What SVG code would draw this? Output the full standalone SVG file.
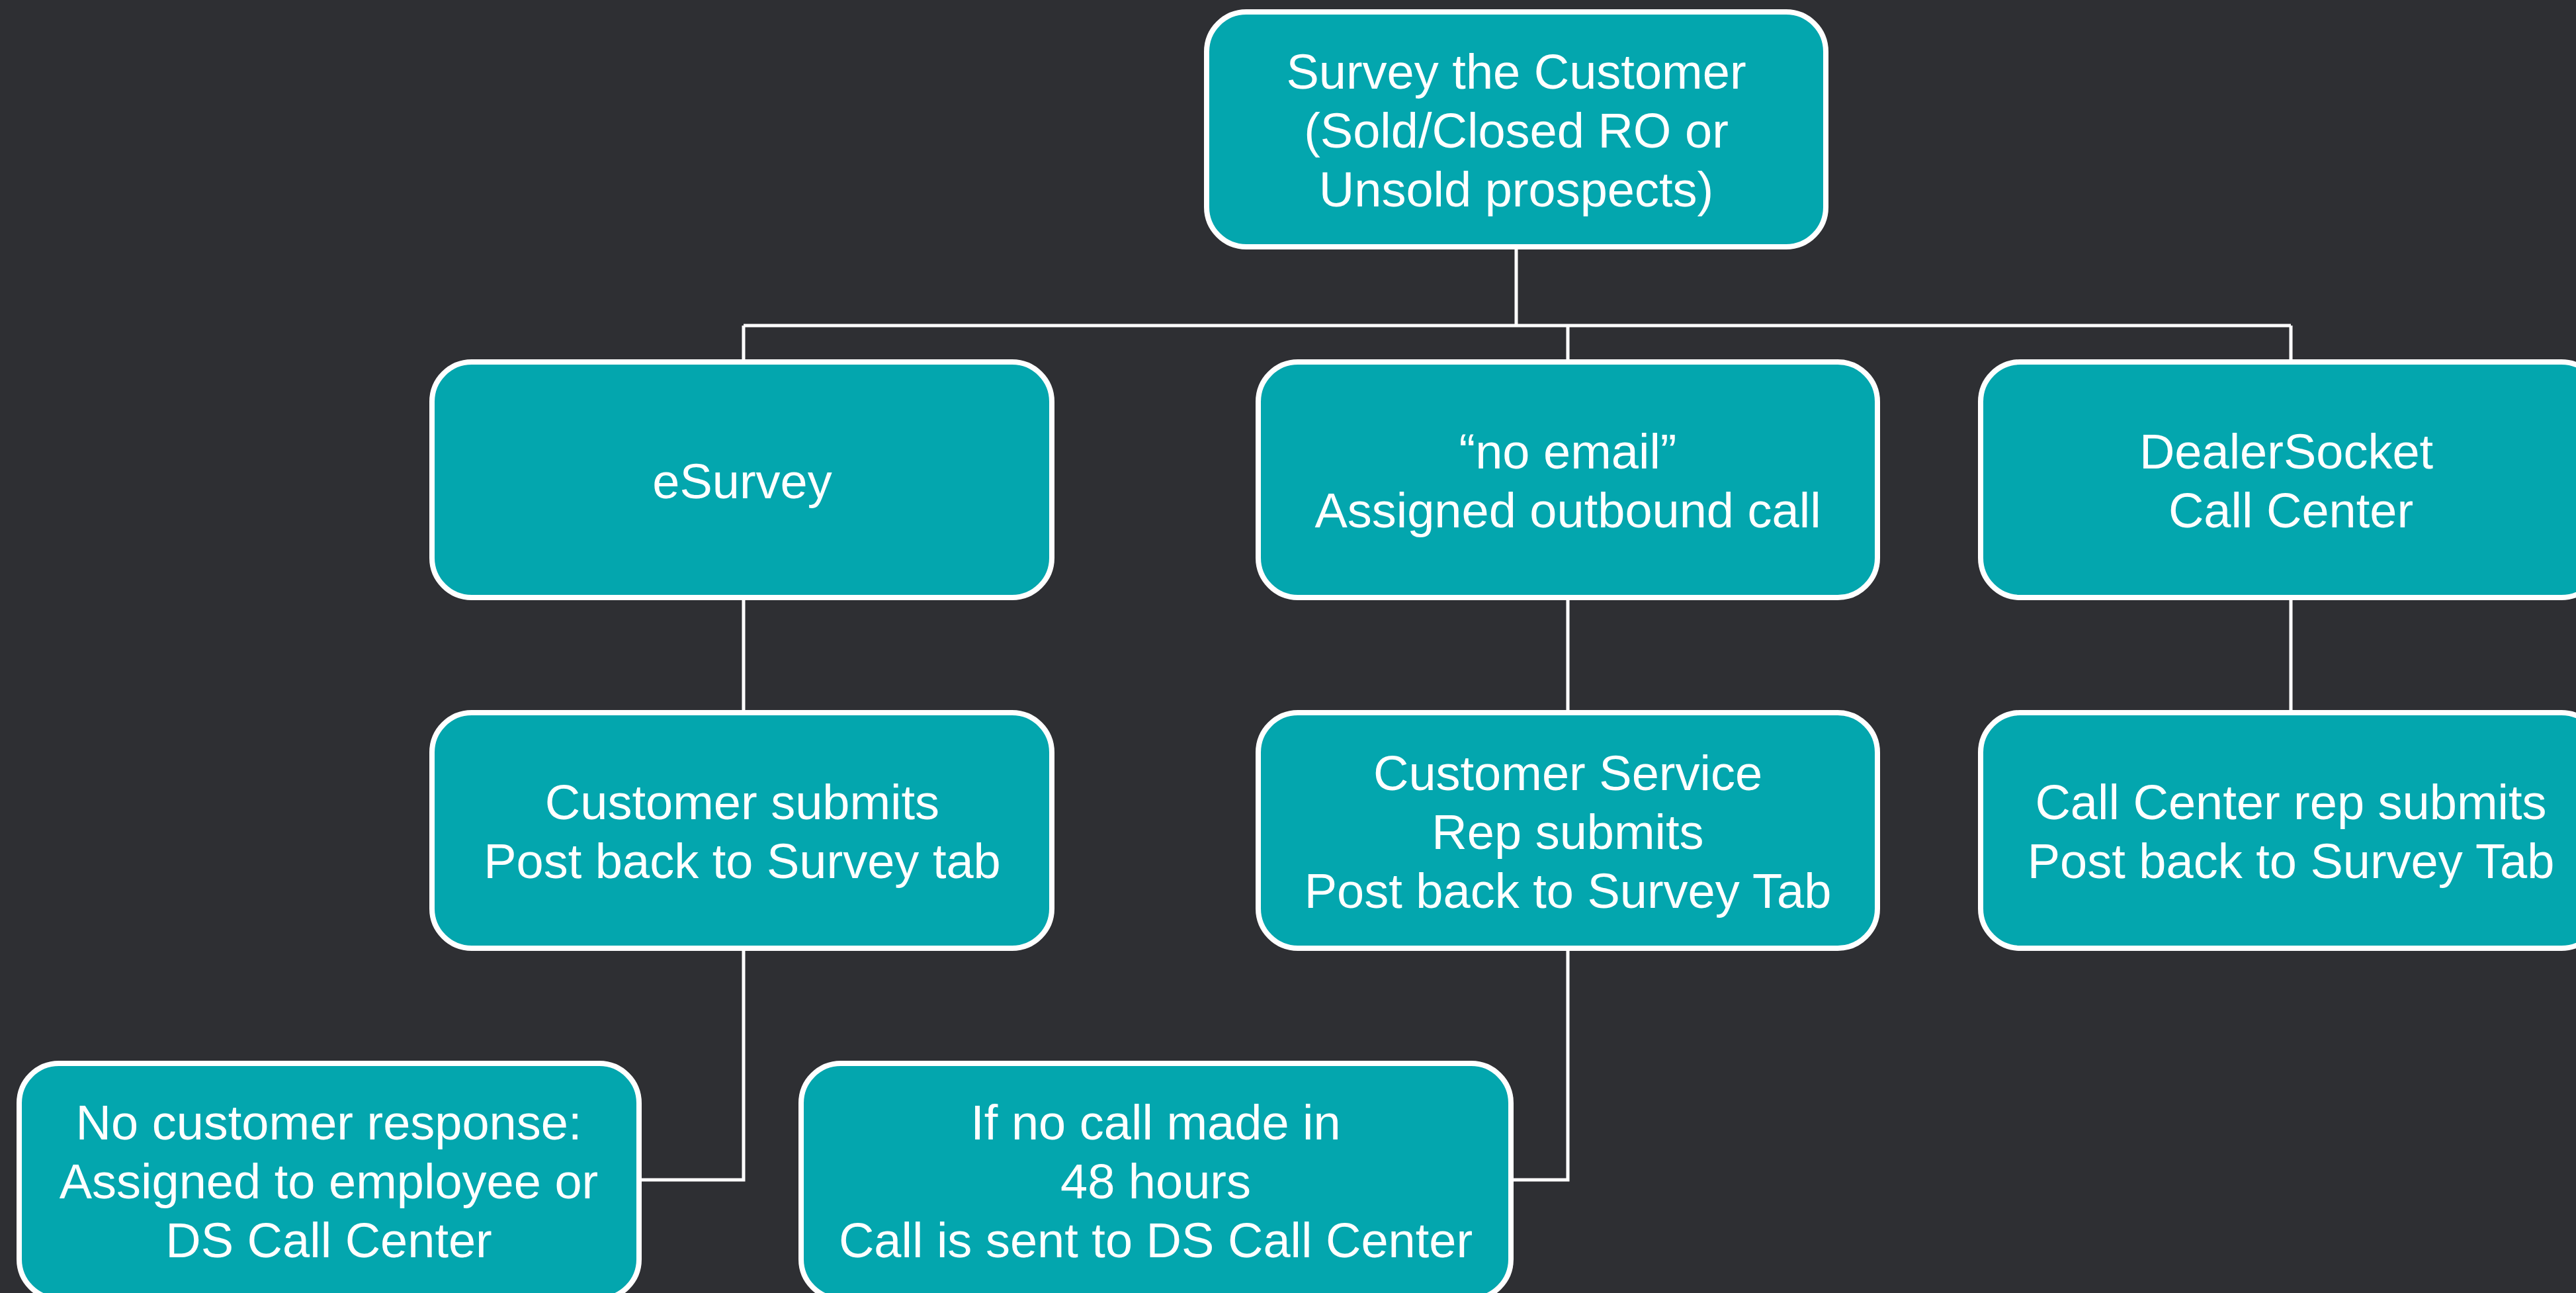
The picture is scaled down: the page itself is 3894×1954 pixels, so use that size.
<svg xmlns="http://www.w3.org/2000/svg" width="3894" height="1954" viewBox="0 0 3894 1954">
  <style>
    .box { fill: #03A6AE; stroke: #FFFFFF; stroke-width: 8; }
    .lbl { fill: #FFFFFF; font-family: "Liberation Sans", Arial, sans-serif; font-size: 74px; text-anchor: middle; }
    .wire { fill: none; stroke: #FFFFFF; stroke-width: 5; }
  </style>
  <rect x="0" y="0" width="3894" height="1954" fill="#2E2F33"/>

  <g id="connectors">
    <!-- root to second level -->
    <path class="wire" d="M2292 375 V492"/>
    <path class="wire" d="M1124 492 H3463"/>
    <path class="wire" d="M1124 492 V545 M2370 492 V545 M3463 492 V545"/>
    <!-- second level to third level -->
    <path class="wire" d="M1124 905 V1075 M2370 905 V1075 M3463 905 V1075"/>
    <!-- third level to side boxes -->
    <path class="wire" d="M1124 1435 V1783 H968"/>
    <path class="wire" d="M2370 1435 V1783 H2286"/>
  </g>

  <g id="node-root">
    <rect class="box" x="1824" y="18" width="936" height="355" rx="60"/>
    <text class="lbl" x="2292" y="134">Survey the Customer</text>
    <text class="lbl" x="2292" y="223">(Sold/Closed RO or</text>
    <text class="lbl" x="2292" y="312">Unsold prospects)</text>
  </g>

  <g id="node-esurvey">
    <rect class="box" x="653" y="547" width="937" height="356" rx="60"/>
    <text class="lbl" x="1122" y="753">eSurvey</text>
  </g>

  <g id="node-no-email">
    <rect class="box" x="1902" y="547" width="936" height="356" rx="60"/>
    <text class="lbl" x="2370" y="708">“no email”</text>
    <text class="lbl" x="2370" y="797">Assigned outbound call</text>
  </g>

  <g id="node-dealersocket">
    <rect class="box" x="2994" y="547" width="938" height="356" rx="60"/>
    <text class="lbl" x="3456" y="708">DealerSocket</text>
    <text class="lbl" x="3463" y="797">Call Center</text>
  </g>

  <g id="node-customer-submits">
    <rect class="box" x="653" y="1077" width="937" height="356" rx="60"/>
    <text class="lbl" x="1122" y="1238">Customer submits</text>
    <text class="lbl" x="1122" y="1327">Post back to Survey tab</text>
  </g>

  <g id="node-csr-submits">
    <rect class="box" x="1902" y="1077" width="936" height="356" rx="60"/>
    <text class="lbl" x="2370" y="1194">Customer Service</text>
    <text class="lbl" x="2370" y="1283">Rep submits</text>
    <text class="lbl" x="2370" y="1372">Post back to Survey Tab</text>
  </g>

  <g id="node-call-center-submits">
    <rect class="box" x="2994" y="1077" width="938" height="356" rx="60"/>
    <text class="lbl" x="3463" y="1238">Call Center rep submits</text>
    <text class="lbl" x="3463" y="1327">Post back to Survey Tab</text>
  </g>

  <g id="node-no-response">
    <rect class="box" x="29" y="1607" width="937" height="356" rx="60"/>
    <text class="lbl" x="497" y="1722">No customer response:</text>
    <text class="lbl" x="497" y="1811">Assigned to employee or</text>
    <text class="lbl" x="497" y="1900">DS Call Center</text>
  </g>

  <g id="node-no-call">
    <rect class="box" x="1211" y="1607" width="1073" height="356" rx="60"/>
    <text class="lbl" x="1747" y="1722">If no call made in</text>
    <text class="lbl" x="1747" y="1811">48 hours</text>
    <text class="lbl" x="1747" y="1900">Call is sent to DS Call Center</text>
  </g>
</svg>
